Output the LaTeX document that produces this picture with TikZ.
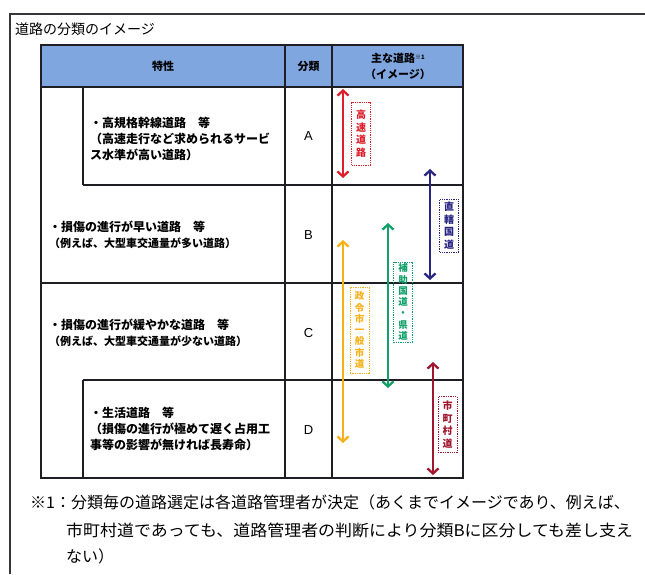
\documentclass[tikz,border=0pt]{standalone}
\usepackage{fontspec}
\setmainfont{Liberation Sans}
\newfontfamily\jp{Noto Sans CJK JP}
\usetikzlibrary{arrows.meta}
\definecolor{hdr}{RGB}{128,166,224}
\definecolor{gridc}{RGB}{30,30,36}
\definecolor{cRed}{RGB}{222,30,42}
\definecolor{cBlue}{RGB}{40,36,130}
\definecolor{cGreen}{RGB}{16,160,104}
\definecolor{cYel}{RGB}{246,176,24}
\definecolor{cDRed}{RGB}{160,22,48}
\newcommand\myfs[2]{\fontsize{#1}{#2}\selectfont}
\tikzset{
  gridline/.style={draw=gridc, line width=1.1pt},
  celltxt/.style={anchor=west, align=left, inner sep=0pt, font=\jp\bfseries\myfs{12}{16}},
  cls/.style={inner sep=0pt, font=\myfs{13}{15}},
  hdrtxt/.style={inner sep=0pt, align=center, font=\jp\bfseries\myfs{11}{15}},
  vlab/.style={draw=#1, text=#1, dash pattern=on 1.3pt off 1pt, line width=0.7pt,
    align=center, inner sep=1pt, minimum width=19pt, font=\jp\bfseries\myfs{10}{12.5}},
  vlabs/.style={vlab=#1, font=\jp\bfseries\myfs{9.5}{11.3}},
  roadarrow/.style={draw=#1, line width=2.3pt,
    {Straight Barb[length=5pt,width=11pt]}-{Straight Barb[length=5pt,width=11pt]}},
  foot/.style={anchor=base west, inner sep=0pt, font=\jp\myfs{16}{20}}
}
\begin{document}
\begin{tikzpicture}[x=1pt,y=-1pt]
\useasboundingbox (0,0) rectangle (645,574);
\fill[white] (0,0) rectangle (645,574);
% outer frame
\draw[draw=gridc!90, line width=1.6pt] (10,574) -- (10,14) -- (645,14);
\node[anchor=west, inner sep=0pt, font=\jp\myfs{14}{17}] (title) at (15,29) {道路の分類のイメージ};
% header
\fill[hdr] (41,45) rectangle (463,87);
% grid
\draw[gridline] (41,45) rectangle (463,478);
\draw[gridline] (41,87) -- (463,87);
\draw[gridline] (285,45) -- (285,478);
\draw[gridline] (332,45) -- (332,478);
\draw[gridline] (83,185) -- (463,185);
\draw[gridline] (41,283) -- (463,283);
\draw[gridline] (83,380) -- (463,380);
\draw[gridline] (83,87) -- (83,185);
\draw[gridline] (83,380) -- (83,478);
% header texts
\node[hdrtxt] (h1) at (163,66) {特性};
\node[hdrtxt] (h2) at (308.5,66) {分類};
\node[hdrtxt] (h3) at (398,58) {主な道路\raisebox{3pt}{\myfs{6}{6}※1}};
\node[hdrtxt] (h4) at (398,74) {（イメージ）};
% row texts
\node[celltxt] (ta) at (90,139) {・高規格幹線道路　等\\（高速走行など求められるサービ\\ス水準が高い道路）};
\node[celltxt] (tb) at (49,235) {・損傷の進行が早い道路　等\\{\myfs{11}{15}（例えば、大型車交通量が多い道路）}};
\node[celltxt] (tc) at (49,333) {・損傷の進行が緩やかな道路　等\\{\myfs{11}{15}（例えば、大型車交通量が少ない道路）}};
\node[celltxt] (td) at (90,429) {・生活道路　等\\（損傷の進行が極めて遅く占用工\\事等の影響が無ければ長寿命）};
\node[cls] (la) at (308.5,136) {A};
\node[cls] (lb) at (308.5,235) {B};
\node[cls] (lc) at (308.5,333) {C};
\node[cls] (ld) at (308.5,430) {D};
% arrows
\coordinate (r1) at (343,89);  \coordinate (r2) at (343,178);
\coordinate (b1) at (430,169); \coordinate (b2) at (430,280);
\coordinate (g1) at (388,223); \coordinate (g2) at (388,388);
\coordinate (y1) at (343,240); \coordinate (y2) at (343,443);
\coordinate (d1) at (433,362); \coordinate (d2) at (433,475);
\draw[roadarrow=cRed] (r1) -- (r2);
\draw[roadarrow=cBlue] (b1) -- (b2);
\draw[roadarrow=cGreen] (g1) -- (g2);
\draw[roadarrow=cYel] (y1) -- (y2);
\draw[roadarrow=cDRed] (d1) -- (d2);
% labels
\node[vlab=cRed, minimum height=63pt] (lr) at (361,133.5) {高\\速\\道\\路};
\node[vlab=cBlue, minimum height=53pt] (lbl) at (449,225.5) {直\\轄\\国\\道};
\node[vlabs=cGreen, minimum height=80pt] (lg) at (403,302) {補\\助\\国\\道\\・\\県\\道};
\node[vlabs=cYel, minimum height=86pt] (ly) at (359.5,330) {政\\令\\市\\一\\般\\市\\道};
\node[vlab=cDRed, minimum height=56pt] (ld2) at (447.5,424.5) {市\\町\\村\\道};
% footnote
\node[foot] (f1) at (30,508) {※1：分類毎の道路選定は各道路管理者が決定（あくまでイメージであり、例えば、};
\node[foot] (f2) at (66,536) {\scalebox{1.06}[1]{市町村道であっても、道路管理者の判断により分類Bに区分しても差し支え}};
\node[foot] (f3) at (66,562) {ない）};
\end{tikzpicture}
\end{document}
